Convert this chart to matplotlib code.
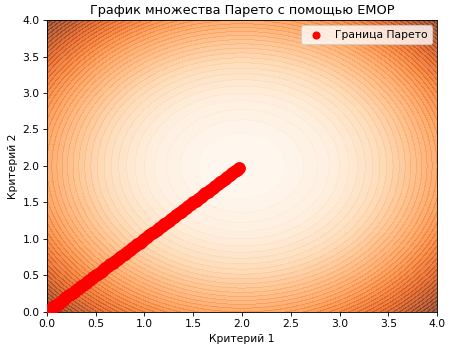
import numpy as np
import matplotlib
matplotlib.use("Agg")
import matplotlib.pyplot as plt

# objective surface: squared distance from the ideal point
center_x = 2.0
center_y = 2.0
n_levels = 50

# Pareto front points
pareto_x = [0.000, 0.025, 0.050, 0.075, 0.100, 0.125, 0.150, 0.175, 0.200, 0.225,
            0.250, 0.275, 0.300, 0.325, 0.350, 0.375, 0.400, 0.425, 0.450, 0.475,
            0.500, 0.525, 0.550, 0.575, 0.600, 0.625, 0.650, 0.675, 0.700, 0.725,
            0.750, 0.775, 0.800, 0.825, 0.850, 0.875, 0.900, 0.925, 0.950, 0.975,
            1.000, 1.025, 1.050, 1.075, 1.100, 1.125, 1.150, 1.175, 1.200, 1.225,
            1.250, 1.275, 1.300, 1.325, 1.350, 1.375, 1.400, 1.425, 1.450, 1.475,
            1.500, 1.525, 1.550, 1.575, 1.600, 1.625, 1.650, 1.675, 1.700, 1.725,
            1.750, 1.775, 1.800, 1.825, 1.850, 1.875, 1.900, 1.925, 1.950, 1.970]
pareto_y = list(pareto_x)

fig = plt.figure(figsize=(474 / 77, 352 / 77), dpi=77)
ax = fig.add_axes([0.099, 0.114, 0.823, 0.829])

gx = np.linspace(0, 4, 300)
gy = np.linspace(0, 4, 300)
X, Y = np.meshgrid(gx, gy)
Z = (X - center_x) ** 2 + (Y - center_y) ** 2

ax.contourf(X, Y, Z, levels=n_levels, cmap='Oranges', alpha=0.72)

ax.scatter(pareto_x, pareto_y, color='red', s=120, label='Граница Парето', zorder=3)

ax.set_xlim(0, 4)
ax.set_ylim(0, 4)
ax.set_xticks(np.arange(0, 4.01, 0.5))
ax.set_yticks(np.arange(0, 4.01, 0.5))
ax.set_xlabel('Критерий 1')
ax.set_ylabel('Критерий 2')
ax.set_title('График множества Парето с помощью EMOP')
ax.legend(loc='upper right', markerscale=0.6)

fig.savefig('out.png', dpi=77)
